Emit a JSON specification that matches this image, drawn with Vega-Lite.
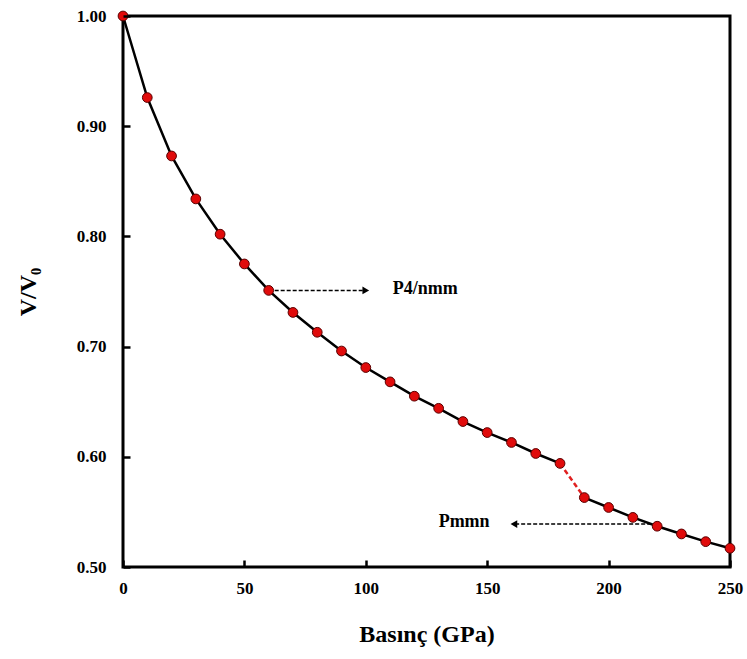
{
  "$schema": "https://vega.github.io/schema/vega-lite/v6.json",
  "autosize": "none",
  "width": 607,
  "height": 551,
  "padding": {"left": 123, "top": 16, "right": 17, "bottom": 92},
  "background": "white",
  "config": {
    "view": {"stroke": "black", "strokeWidth": 3},
    "font": "Liberation Serif",
    "axis": {
      "grid": false,
      "labelFont": "Liberation Serif",
      "labelFontWeight": "bold",
      "labelFontSize": 17,
      "labelColor": "black",
      "labelFlush": false,
      "titleFont": "Liberation Serif",
      "titleFontWeight": "bold",
      "titleFontSize": 24,
      "titleColor": "black"
    }
  },
  "data": {
    "values": [
      {"P": 0, "V": 1.0, "seg": "a"},
      {"P": 10, "V": 0.926, "seg": "a"},
      {"P": 20, "V": 0.873, "seg": "a"},
      {"P": 30, "V": 0.834, "seg": "a"},
      {"P": 40, "V": 0.802, "seg": "a"},
      {"P": 50, "V": 0.775, "seg": "a"},
      {"P": 60, "V": 0.751, "seg": "a"},
      {"P": 70, "V": 0.731, "seg": "a"},
      {"P": 80, "V": 0.713, "seg": "a"},
      {"P": 90, "V": 0.696, "seg": "a"},
      {"P": 100, "V": 0.681, "seg": "a"},
      {"P": 110, "V": 0.668, "seg": "a"},
      {"P": 120, "V": 0.655, "seg": "a"},
      {"P": 130, "V": 0.644, "seg": "a"},
      {"P": 140, "V": 0.632, "seg": "a"},
      {"P": 150, "V": 0.622, "seg": "a"},
      {"P": 160, "V": 0.613, "seg": "a"},
      {"P": 170, "V": 0.603, "seg": "a"},
      {"P": 180, "V": 0.594, "seg": "a"},
      {"P": 190, "V": 0.563, "seg": "b"},
      {"P": 200, "V": 0.554, "seg": "b"},
      {"P": 210, "V": 0.545, "seg": "b"},
      {"P": 220, "V": 0.537, "seg": "b"},
      {"P": 230, "V": 0.53, "seg": "b"},
      {"P": 240, "V": 0.523, "seg": "b"},
      {"P": 250, "V": 0.517, "seg": "b"}
    ]
  },
  "encoding": {
    "x": {
      "field": "P", "type": "quantitative",
      "scale": {"domain": [0, 250], "nice": false, "zero": false},
      "axis": {"values": [0, 50, 100, 150, 200, 250], "title": "Basınç (GPa)", "domain": false, "ticks": true, "tickColor": "black", "tickWidth": 2.5, "tickSize": 7, "offset": -7, "zindex": 2, "labelPadding": 13, "titlePadding": 26}
    },
    "y": {
      "field": "V", "type": "quantitative",
      "scale": {"domain": [0.5, 1.0], "nice": false, "zero": false},
      "axis": {"values": [0.5, 0.6, 0.7, 0.8, 0.9, 1.0], "format": ".2f", "title": "V/V₀", "domain": false, "ticks": true, "tickColor": "black", "tickWidth": 2.5, "tickSize": -7, "zindex": 2, "labelPadding": 24, "titlePadding": 36}
    }
  },
  "layer": [
    {
      "mark": {"type": "line", "color": "black", "strokeWidth": 2.5},
      "encoding": {"detail": {"field": "seg"}}
    },
    {
      "data": {"values": [{"P": 180, "V": 0.594}, {"P": 190, "V": 0.563}]},
      "mark": {"type": "line", "color": "#e02020", "strokeWidth": 2.5, "strokeDash": [5, 3]},
      "encoding": {}
    },
    {
      "data": {"values": [
        {"x1": 60, "x2": 99, "y": 0.751},
        {"x1": 220, "x2": 162, "y": 0.539}
      ]},
      "mark": {"type": "rule", "color": "black", "strokeWidth": 1.5, "strokeDash": [4, 2]},
      "encoding": {
        "x": {"field": "x1", "type": "quantitative"},
        "x2": {"field": "x2"},
        "y": {"field": "y", "type": "quantitative"}
      }
    },
    {
      "data": {"values": [{"x": 100, "y": 0.751}]},
      "mark": {"type": "point", "shape": "triangle-right", "filled": true, "color": "black", "size": 60, "opacity": 1},
      "encoding": {
        "x": {"field": "x", "type": "quantitative"},
        "y": {"field": "y", "type": "quantitative"}
      }
    },
    {
      "data": {"values": [{"x": 161, "y": 0.539}]},
      "mark": {"type": "point", "shape": "triangle-left", "filled": true, "color": "black", "size": 60, "opacity": 1},
      "encoding": {
        "x": {"field": "x", "type": "quantitative"},
        "y": {"field": "y", "type": "quantitative"}
      }
    },
    {
      "data": {"values": [
        {"x": 124.5, "y": 0.752, "label": "P4/nmm"},
        {"x": 140.5, "y": 0.541, "label": "Pmmn"}
      ]},
      "mark": {"type": "text", "fontSize": 18, "fontWeight": "bold", "font": "Liberation Serif", "color": "black", "baseline": "middle", "align": "center"},
      "encoding": {
        "x": {"field": "x", "type": "quantitative"},
        "y": {"field": "y", "type": "quantitative"},
        "text": {"field": "label"}
      }
    },
    {
      "mark": {"type": "point", "filled": true, "fill": "#e00b0b", "stroke": "#5a0000", "strokeWidth": 1, "size": 95, "opacity": 1}
    }
  ]
}
